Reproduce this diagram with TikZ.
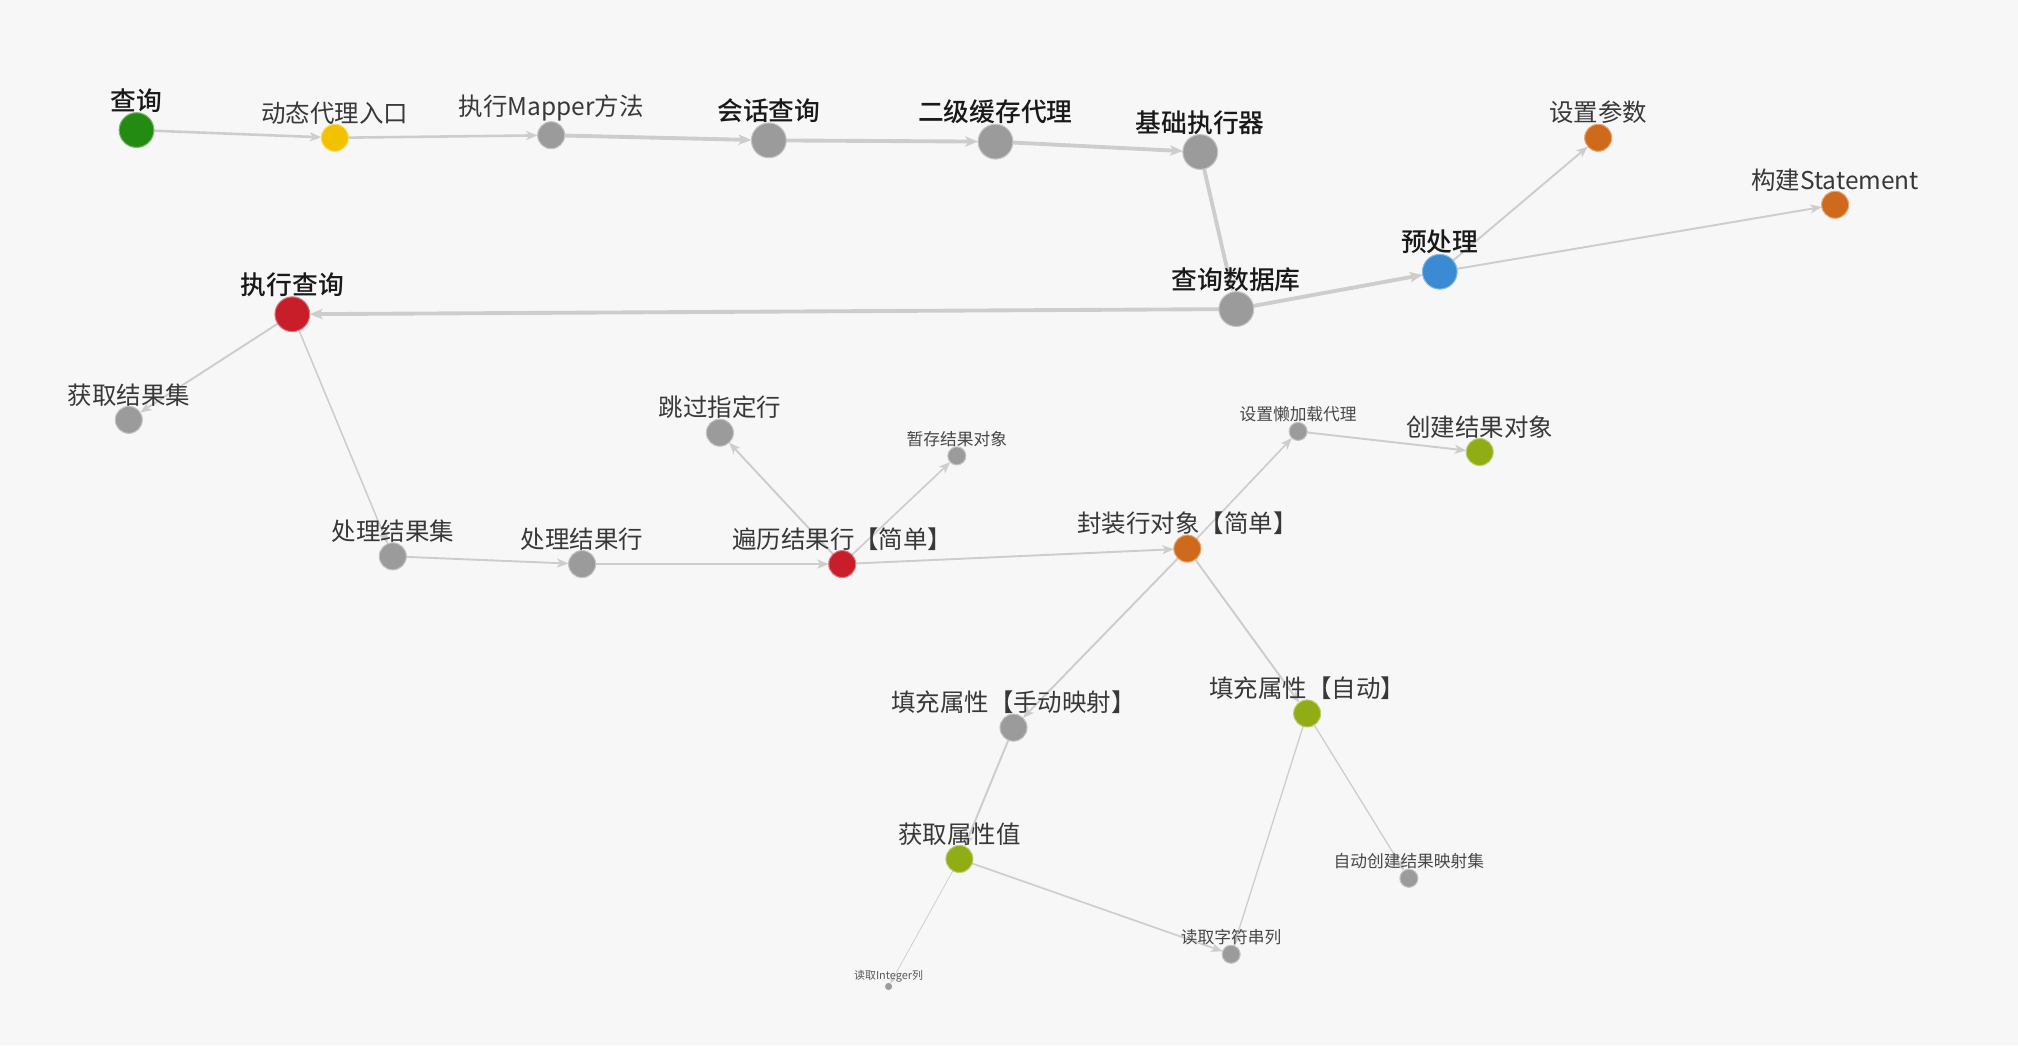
\documentclass[tikz,border=0pt]{standalone}
\usepackage{fontspec}
\setmainfont{Noto Sans CJK SC}[BoldFont={Noto Sans CJK SC Medium}]
\usepackage{tikz}
\usetikzlibrary{backgrounds,arrows.meta}
\definecolor{bgc}{HTML}{F7F7F7}
\definecolor{linkc}{HTML}{CDCDCD}
\definecolor{cgray}{HTML}{9B9B9B}
\definecolor{cgreen}{HTML}{238B12}
\definecolor{cyellow}{HTML}{F2C200}
\definecolor{cblue}{HTML}{3A8BD3}
\definecolor{corange}{HTML}{CF6A1D}
\definecolor{cred}{HTML}{C81E2A}
\definecolor{colive}{HTML}{90AD15}

\begin{document}
\begin{tikzpicture}[x=1pt,y=-1pt,paint/.style={fill=#1,draw=#1!60!white}]
        %
        % `dot' is the base of every step, sized by bigdot/middot/smalldot/tinydot.
        % `bigtext' ... `tinytext' are the labels above the steps.
        % `mainlink' is used for the call chain, `sublink' for the rest.
        \tikzstyle{dot} = [circle,inner sep=0pt,outer sep=0pt,line width=0.8pt,label distance=1.5pt]
        \tikzstyle{bigdot} = [dot,minimum size=27pt]
        \tikzstyle{middot} = [dot,minimum size=21pt]
        \tikzstyle{smalldot} = [dot,minimum size=14pt]
        \tikzstyle{tinydot} = [dot,minimum size=5.5pt,line width=0pt]
        \tikzstyle{bigtext} = [font=\bfseries\fontsize{20}{24}\selectfont,text=black!90,inner sep=0pt]
        \tikzstyle{midtext} = [font=\fontsize{19}{22}\selectfont,text=black!78,inner sep=0pt]
        \tikzstyle{smalltext} = [font=\fontsize{13}{15}\selectfont,text=black!72,inner sep=0pt]
        \tikzstyle{tinytext} = [font=\fontsize{8.5}{10}\selectfont,text=black!65,inner sep=0pt]
        \tikzstyle{link} = [draw=linkc,-{Stealth[length=9pt,width=7pt,inset=2.5pt]}]
        \tikzstyle{mainlink} = [link,line width=3pt,-{Stealth[length=10pt,width=8pt,inset=2.5pt]}]
        \tikzstyle{sublink} = [link,line width=1.5pt]
        %
        \useasboundingbox (0,0) rectangle (1567,811.5);
        %
        % Call chain
        \node[bigdot,paint=cgreen,label={[bigtext]above:查询}] (query) at (106,101) {};
        \node[middot,paint=cyellow,label={[midtext]above:动态代理入口}] (proxy) at (260,107) {};
        \node[middot,paint=cgray,label={[midtext]above:执行Mapper方法}] (mapper) at (428,105) {};
        \node[bigdot,paint=cgray,label={[bigtext]above:会话查询}] (session) at (597,109) {};
        \node[bigdot,paint=cgray,label={[bigtext]above:二级缓存代理}] (cache) at (773,110) {};
        \node[bigdot,paint=cgray,label={[bigtext]above:基础执行器}] (executor) at (932,118) {};
        \node[bigdot,paint=cgray,label={[bigtext]above:查询数据库}] (dbquery) at (960,240) {};
        %
        % Prepare
        \node[bigdot,paint=cblue,label={[bigtext]above:预处理}] (prepare) at (1118,211) {};
        \node[middot,paint=corange,label={[midtext]above:设置参数}] (setparam) at (1241,107) {};
        \node[middot,paint=corange,label={[midtext]above:构建Statement}] (stmt) at (1425,159) {};
        %
        % Execute
        \node[bigdot,paint=cred,label={[bigtext]above:执行查询}] (exec) at (227,244) {};
        \node[middot,paint=cgray,label={[midtext]above:获取结果集}] (getrs) at (100,326) {};
        \node[middot,paint=cgray,label={[midtext]above:处理结果集}] (handlers) at (305,432) {};
        \node[middot,paint=cgray,label={[midtext]above:处理结果行}] (handlerow) at (452,438) {};
        %
        % Rows
        \node[middot,paint=cred,label={[midtext]above:遍历结果行【简单】}] (loop) at (654,438) {};
        \node[middot,paint=cgray,label={[midtext]above:跳过指定行}] (skip) at (559,336) {};
        \node[smalldot,paint=cgray,label={[smalltext]above:暂存结果对象}] (store) at (743,354) {};
        \node[middot,paint=corange,label={[midtext]above:封装行对象【简单】}] (wrap) at (922,426) {};
        \node[smalldot,paint=cgray,label={[smalltext]above:设置懒加载代理}] (lazy) at (1008,335) {};
        \node[middot,paint=colive,label={[midtext]above:创建结果对象}] (create) at (1149,351) {};
        %
        % Properties
        \node[middot,paint=cgray,label={[midtext]above:填充属性【手动映射】}] (manual) at (787,565) {};
        \node[middot,paint=colive,label={[midtext]above:填充属性【自动】}] (auto) at (1015,554) {};
        \node[middot,paint=colive,label={[midtext]above:获取属性值}] (getval) at (745,667) {};
        \node[tinydot,fill=cgray,label={[tinytext]above:读取Integer列}] (readint) at (690,766) {};
        \node[smalldot,paint=cgray,label={[smalltext]above:读取字符串列}] (readstr) at (956,741) {};
        \node[smalldot,paint=cgray,label={[smalltext]above:自动创建结果映射集}] (automap) at (1094,682) {};
        %
        % Background and links
        \begin{pgfonlayer}{background}
        \fill[bgc] (0,0) rectangle (1567,811.5);
        \draw[link,line width=2pt] (query) -- (proxy);
        \draw[link,line width=2pt] (proxy) -- (mapper);
        \draw[mainlink] (mapper) -- (session);
        \draw[mainlink] (session) -- (cache);
        \draw[mainlink] (cache) -- (executor);
        \draw[mainlink] (executor) -- (dbquery);
        \draw[mainlink] (dbquery) -- (prepare);
        \draw[mainlink] (dbquery) -- (exec);
        \draw[sublink] (prepare) -- (setparam);
        \draw[sublink] (prepare) -- (stmt);
        \draw[sublink] (exec) -- (getrs);
        \draw[link,line width=1.2pt] (exec) -- (handlers);
        \draw[sublink] (handlers) -- (handlerow);
        \draw[sublink] (handlerow) -- (loop);
        \draw[sublink] (loop) -- (skip);
        \draw[link,line width=1.3pt] (loop) -- (store);
        \draw[sublink] (loop) -- (wrap);
        \draw[link,line width=1.3pt] (wrap) -- (lazy);
        \draw[sublink] (lazy) -- (create);
        \draw[sublink] (wrap) -- (manual);
        \draw[sublink] (wrap) -- (auto);
        \draw[sublink] (manual) -- (getval);
        \draw[link,line width=0.6pt,-{Stealth[length=5pt,width=4pt]}] (getval) -- (readint);
        \draw[link,line width=1.3pt] (getval) -- (readstr);
        \draw[link,line width=1pt] (auto) -- (readstr);
        \draw[link,line width=1pt] (auto) -- (automap);
        \end{pgfonlayer}
        %
        \end{tikzpicture}
\end{document}
